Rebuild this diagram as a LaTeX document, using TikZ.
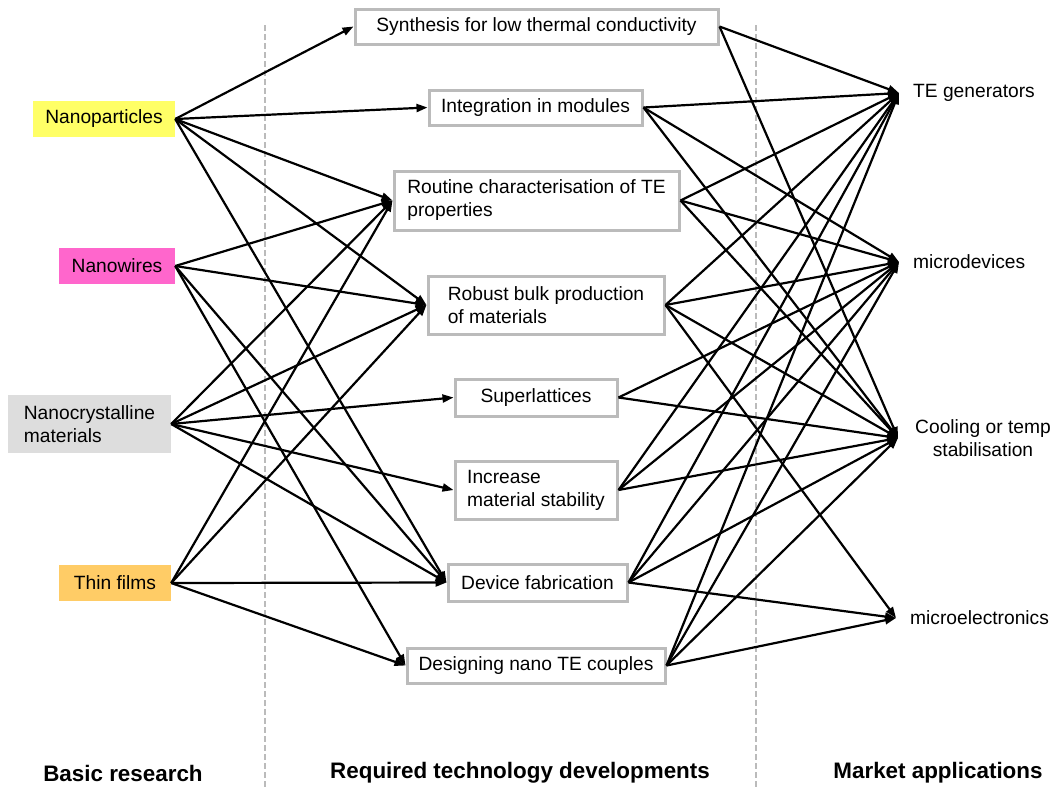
\documentclass[tikz,border=0pt]{standalone}
\usepackage{fontspec}
\setmainfont{Liberation Sans}
\usetikzlibrary{arrows.meta}
\definecolor{npyellow}{HTML}{FFFF66}
\definecolor{nwpink}{HTML}{FF66CC}
\definecolor{ncgray}{HTML}{DDDDDD}
\definecolor{tforange}{HTML}{FFCC66}
\definecolor{boxgray}{HTML}{BBBBBB}
\definecolor{dashgray}{HTML}{BBBBBB}
\begin{document}
\begin{tikzpicture}[x=1pt,y=-1pt,
  basefont/.style={font=\fontsize{19.2}{23}\selectfont},
  srcbox/.style={basefont, inner sep=0pt, align=left},
  devbox/.style={basefont, draw=boxgray, line width=3pt, fill=white, inner sep=0pt, align=left},
  appnode/.style={basefont, anchor=west, inner xsep=14pt, inner ysep=0pt, align=center},
  link/.style={line width=2.2pt, -{Triangle[length=11pt,width=8pt]}},
  sepline/.style={dashgray, line width=1.5pt, dash pattern=on 6pt off 3pt},
  coltitle/.style={font=\bfseries\fontsize{22.4}{26}\selectfont, inner sep=0pt}]

\useasboundingbox (0,0) rectangle (1056,788);

% separators
\coordinate (sepAtop) at (265,25);
\coordinate (sepAbot) at (265,788);
\coordinate (sepBtop) at (756,25);
\coordinate (sepBbot) at (756,788);
\draw[sepline] (sepAtop) -- (sepAbot);
\draw[sepline] (sepBtop) -- (sepBbot);

% basic research
\node[srcbox, fill=npyellow, minimum width=142pt, minimum height=36pt] (np) at (104,119) {Nanoparticles};
\node[srcbox, fill=nwpink, minimum width=116pt, minimum height=36pt] (nw) at (117,266) {Nanowires};
\node[srcbox, fill=ncgray, minimum width=163pt, minimum height=58pt] (nc) at (89.5,424) {Nanocrystalline\\materials};
\node[srcbox, fill=tforange, minimum width=112pt, minimum height=36pt] (tf) at (115,583) {Thin films};

% technology developments
\node[devbox, minimum width=363pt, minimum height=35pt] (s1) at (536.5,26.5) {Synthesis for low thermal conductivity};
\node[devbox, minimum width=213pt, minimum height=35pt] (s2) at (535.5,107.5) {Integration in modules};
\node[devbox, minimum width=285pt, minimum height=59pt] (s3) at (536.5,200.5) {Routine characterisation of TE\\properties};
\node[devbox, minimum width=236pt, minimum height=58pt] (s4) at (546,305) {Robust bulk production\\of materials};
\node[devbox, minimum width=162pt, minimum height=37pt] (s5) at (536,397.5) {Superlattices};
\node[devbox, minimum width=162pt, minimum height=58pt] (s6) at (536,490) {Increase\\material stability};
\node[devbox, minimum width=179pt, minimum height=37pt] (s7) at (537.5,582.5) {Device fabrication};
\node[devbox, minimum width=258pt, minimum height=35pt] (s8) at (536,665.5) {Designing nano TE couples};

% market applications
\node[appnode] (te) at (899,93) {TE generators};
\node[appnode] (md) at (899,262) {microdevices};
\node[appnode, inner xsep=17pt] (co) at (898,438) {Cooling or temp\\stabilisation};
\node[appnode] (me) at (896,618) {microelectronics};

% column titles
\node[coltitle] (t1) at (123,773) {Basic research};
\node[coltitle] (t2) at (520,773) {Required technology developments};
\node[coltitle] (t3) at (938,773) {Market applications};

% links basic research -> developments
\foreach \a/\b in {np/s1,np/s2,np/s3,np/s4,np/s7,
                   nw/s3,nw/s4,nw/s7,nw/s8,
                   nc/s3,nc/s4,nc/s5,nc/s6,nc/s7,
                   tf/s3,tf/s4,tf/s7,tf/s8}
  \draw[link] (\a.east) -- (\b.west);

% links developments -> applications
\foreach \a/\b in {s1/te,s1/co,
                   s2/te,s2/md,s2/co,
                   s3/te,s3/md,s3/co,
                   s4/te,s4/md,s4/co,s4/me,
                   s5/md,s5/co,
                   s6/te,s6/md,s6/co,
                   s7/te,s7/md,s7/co,s7/me,
                   s8/te,s8/md,s8/co,s8/me}
  \draw[link] (\a.east) -- (\b.west);
\end{tikzpicture}
\end{document}
